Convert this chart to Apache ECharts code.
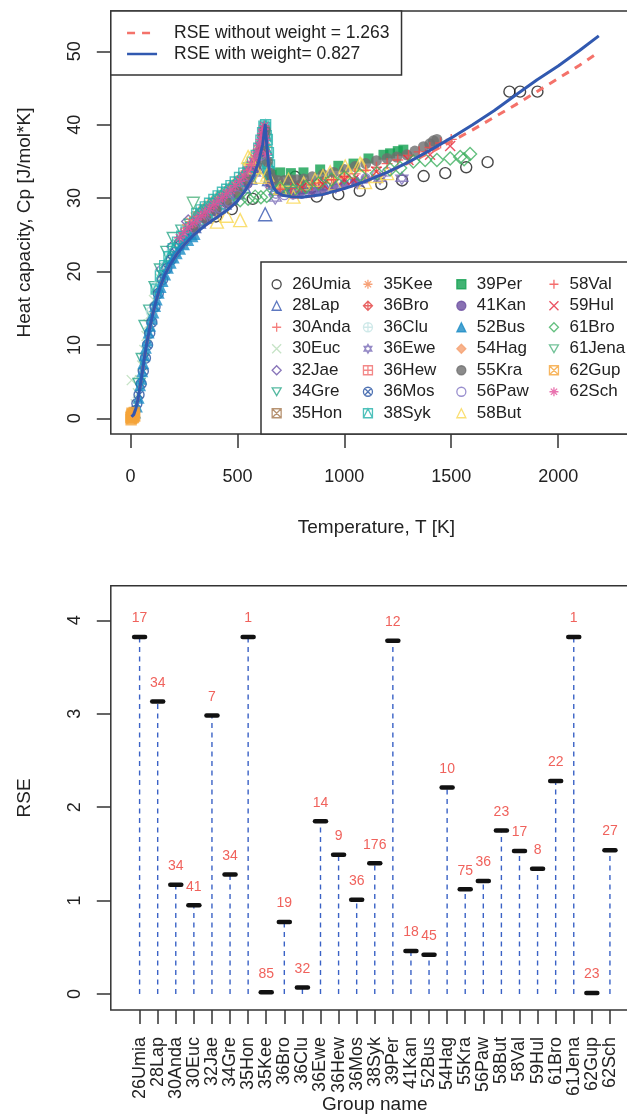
<!DOCTYPE html>
<html>
<head>
<meta charset="utf-8">
<title>Heat capacity fit and RSE by group</title>
<script src="https://cdn.jsdelivr.net/npm/echarts@6/dist/echarts.min.js"></script>
<style>
  html, body { margin: 0; padding: 0; background: #fff; }
  #chart { width: 627px; height: 1115px; }
</style>
</head>
<body>
<div id="chart"></div>
<script>
// ---- data ----
const groupNames = ['26Umia', '28Lap', '30Anda', '30Euc', '32Jae', '34Gre', '35Hon', '35Kee', '36Bro',
  '36Clu', '36Ewe', '36Hew', '36Mos', '38Syk', '39Per', '41Kan', '52Bus', '54Hag', '55Kra', '56Paw',
  '58But', '58Val', '59Hul', '61Bro', '61Jena', '62Gup', '62Sch']
const rseValues = [3.82, 3.13, 1.17, 0.95, 2.98, 1.28, 3.82, 0.02, 0.77, 0.07, 1.85, 1.49, 1.01, 1.40,
  3.78, 0.46, 0.42, 2.21, 1.12, 1.21, 1.75, 1.53, 1.34, 2.28, 3.82, 0.01, 1.54]
const pointCounts = [17, 34, 34, 41, 7, 34, 1, 85, 19, 32, 14, 9, 36, 176, 12, 18, 45, 10, 75, 36,
  23, 17, 8, 22, 1, 23, 27]

const tempTicks = [0, 500, 1000, 1500, 2000]
const cpTicks = [0, 10, 20, 30, 40, 50]
const rseTicks = [0, 1, 2, 3, 4]

// fitted curves
const fitT = [5, 15, 25, 35, 45, 55, 65, 75, 90, 105, 120, 140, 160, 185, 215, 250, 300, 350, 400, 450,
  500, 540, 575, 600, 618, 630, 638, 645, 655, 668, 685, 710, 750, 800, 900, 1000, 1100, 1200, 1300, 1400,
  1500, 1600, 1700, 1800, 1900, 2000, 2100, 2190]
const fitWeighted = [0.2, 0.5, 1.3, 2.6, 4.3, 6.2, 8.2, 10.0, 12.3, 14.3, 16.0, 18.0, 19.5, 20.9, 22.3, 23.6, 25.1, 26.3, 27.3, 28.3,
  29.6, 31.2, 33.0, 35.0, 37.3, 40.1, 37.0, 34.6, 32.7, 31.5, 30.8, 30.4, 30.2, 30.1, 30.5, 31.3, 32.3, 33.5, 34.9, 36.5,
  38.2, 40.0, 41.9, 44.0, 46.1, 48.0, 50.1, 52.1]
const fitUnweighted = [0.2, 0.5, 1.3, 2.6, 4.3, 6.2, 8.2, 10.0, 12.3, 14.3, 16.0, 18.0, 19.5, 20.9, 22.3, 23.6, 25.1, 26.3, 27.3, 28.3,
  29.6, 31.2, 33.0, 35.0, 37.3, 40.1, 37.0, 34.6, 32.7, 31.5, 30.8, 30.4, 30.2, 30.1, 30.5, 31.3, 32.3, 33.5, 34.8, 36.2,
  37.7, 39.3, 41.0, 42.7, 44.5, 46.3, 48.1, 49.9]

// measured points per group, [T, Cp]
const umia26 = [[300, 25.9], [400, 27.5], [474, 28.5], [572, 29.9], [770, 32.9], [871, 30.2], [972, 30.5], [1072, 31.0],
  [1173, 31.9], [1270, 32.4], [1371, 33.0], [1472, 33.4], [1570, 34.2], [1670, 34.9], [1772, 44.5], [1822, 44.5], [1903, 44.5]]
const lap28 = [[298, 26.2], [320, 26.8], [350, 27.5], [380, 28.1], [410, 28.8], [440, 29.4], [470, 30.0], [500, 30.8],
  [530, 31.6], [560, 32.8], [590, 34.3], [610, 35.6], [622, 37.2], [630, 27.8], [648, 32.6], [680, 31.4], [720, 31.2],
  [760, 31.3], [800, 31.5], [850, 31.7], [900, 32.0]]
const anda30 = [[210, 23.9], [240, 24.9], [270, 25.7], [300, 26.5], [330, 27.2], [360, 27.9], [390, 28.6], [420, 29.3],
  [450, 30.0], [480, 30.7], [510, 31.5], [540, 32.4], [570, 33.6], [595, 35.0], [612, 36.4], [624, 38.0], [636, 35.2],
  [650, 32.6], [680, 31.6], [720, 31.5], [780, 31.7], [850, 32.0]]
const euc30 = [[6, 5.2], [15, 0.8], [25, 1.9], [35, 3.4], [45, 5.2], [55, 7.2], [65, 9.3], [75, 11.2], [85, 12.8],
  [95, 14.2], [110, 16.1], [125, 17.7], [140, 19.0], [160, 20.4], [180, 21.6], [200, 22.6], [230, 23.8], [260, 24.8], [290, 25.7]]
const jae32 = [[150, 20.3], [200, 23.4], [270, 26.8], [330, 28.0], [420, 29.6], [520, 31.8], [600, 35.5]]
const gre34 = [[40, 4.6], [55, 8.0], [68, 12.5], [90, 14.6], [115, 17.8], [140, 20.2], [170, 22.6], [200, 24.5], [240, 25.5],
  [280, 26.3], [320, 27.3], [360, 28.2], [400, 29.1], [440, 30.0], [480, 30.9], [520, 32.0], [560, 33.4], [600, 35.3],
  [625, 37.8], [645, 33.2], [690, 31.4], [750, 31.3], [820, 31.6], [900, 32.0]]
const hon35 = [[298, 26.1]]
const kee35 = [[260, 25.9], [280, 26.8], [300, 26.6], [300, 27.5], [315, 27.0], [320, 28.1], [330, 27.3], [340, 28.6],
  [345, 27.7], [360, 28.0], [360, 29.1], [375, 28.3], [380, 29.5], [390, 28.7], [400, 30.0], [405, 29.0], [420, 29.4],
  [420, 30.4], [435, 29.7], [440, 30.9], [450, 30.0], [460, 31.4], [465, 30.4], [480, 30.8], [480, 31.9], [495, 31.2],
  [500, 32.4], [510, 31.7], [520, 33.0], [525, 32.1], [540, 32.7], [540, 33.7], [555, 33.3], [560, 34.5], [570, 34.0],
  [580, 35.4], [585, 34.8], [596, 36.6], [598, 35.8], [608, 36.7], [612, 37.8], [616, 37.7], [622, 38.6], [627, 39.3],
  [634, 37.0], [640, 34.8], [648, 33.2], [660, 32.2], [680, 31.7], [710, 31.5], [750, 31.5]]
const bro36 = [[300, 26.4], [350, 27.6], [400, 28.7], [450, 29.9], [500, 31.1], [540, 32.4], [580, 34.0], [610, 36.0],
  [628, 38.8], [650, 32.8], [700, 31.5], [760, 31.5], [820, 31.8], [880, 32.1], [940, 32.5], [1000, 33.0]]
const clu36 = [[100, 14.5], [130, 18.0], [160, 20.5], [190, 22.4], [220, 23.8], [250, 24.8], [280, 25.7], [310, 26.5],
  [340, 27.2], [370, 27.9], [400, 28.5], [430, 29.1], [460, 29.8], [490, 30.5]]
const ewe36 = [[300, 26.2], [400, 28.2], [500, 30.4], [580, 33.4], [620, 36.8], [677, 30.0], [760, 30.7], [860, 31.0],
  [960, 31.5], [1060, 32.1], [1167, 32.7], [1269, 32.7]]
const hew36 = [[320, 27.0], [380, 28.3], [440, 29.6], [500, 31.0], [560, 33.0], [605, 35.8], [626, 38.6], [660, 32.0], [720, 31.4]]
const mos36 = [[20, 1.0], [30, 2.0], [40, 3.2], [50, 4.7], [60, 6.4], [70, 8.2], [80, 10.0], [90, 11.6], [100, 13.1],
  [115, 15.2], [130, 17.0], [150, 18.9], [170, 20.4], [190, 21.6], [210, 22.6], [230, 23.5], [250, 24.2], [270, 24.9], [290, 25.5]]
const syk38 = [[120, 17.6], [140, 19.4], [160, 20.8], [180, 22.0], [200, 23.1], [220, 24.0], [240, 24.8], [260, 25.4],
  [280, 26.0], [300, 26.6], [310, 27.9], [320, 27.0], [330, 28.4], [340, 27.5], [350, 28.8], [360, 27.9], [370, 29.3],
  [380, 28.4], [390, 29.8], [400, 28.8], [410, 30.3], [420, 29.2], [430, 30.8], [440, 29.7], [450, 31.2], [460, 30.1],
  [470, 31.7], [480, 30.6], [490, 32.2], [500, 31.1], [510, 32.8], [520, 31.7], [530, 33.4], [540, 32.3], [550, 34.1],
  [560, 33.0], [570, 34.9], [580, 33.9], [588, 35.8], [595, 34.9], [600, 36.8], [605, 35.8], [610, 37.9], [613, 36.7],
  [618, 38.9], [620, 37.7], [624, 39.8], [625, 38.7], [629, 39.6], [632, 40.0], [635, 38.5], [638, 36.5], [640, 38.0],
  [642, 34.8], [645, 36.2], [647, 33.6], [650, 34.5], [653, 32.8], [660, 32.3], [670, 31.9], [685, 31.6], [700, 31.4],
  [720, 31.3], [740, 31.3], [760, 31.3], [780, 31.4], [800, 31.5]]
const per39 = [[660, 33.2], [700, 33.5], [750, 33.4], [809, 33.5], [887, 33.9], [972, 34.4], [1043, 34.7], [1113, 35.4],
  [1183, 35.9], [1214, 36.1], [1250, 36.4], [1276, 36.6]]
const kan41 = [[300, 26.0], [350, 27.1], [400, 28.1], [450, 29.2], [500, 30.4], [550, 31.9], [590, 34.0], [615, 36.2],
  [650, 32.0], [700, 30.9], [750, 30.8], [800, 30.9], [850, 31.1], [900, 31.3], [950, 31.6], [1000, 31.9], [1050, 32.3], [1100, 32.6]]
const bus52 = [[14, 0.4], [22, 0.8], [30, 1.6], [38, 2.8], [45, 4.5], [50, 5.4], [55, 6.4], [60, 7.5], [66, 8.6], [72, 9.6],
  [78, 10.6], [85, 11.7], [92, 12.6], [100, 13.6], [107, 14.4], [115, 15.3], [123, 16.2], [132, 17.1], [141, 17.9],
  [150, 18.7], [162, 19.6], [175, 20.5], [188, 21.2], [202, 21.9], [216, 22.5], [232, 23.1], [250, 23.7], [270, 24.3],
  [290, 24.8], [300, 25.1]]
const hag54 = [[300, 26.3], [350, 27.4], [400, 28.4], [450, 29.5], [500, 30.7], [550, 32.3], [600, 35.2], [625, 38.2], [660, 32.0], [700, 31.3]]
const kra55 = [[298, 26.0], [350, 27.3], [400, 28.4], [450, 29.5], [500, 30.8], [550, 32.5], [590, 34.6], [612, 36.6],
  [625, 38.5], [630, 39.3], [640, 35.0], [652, 33.4], [665, 32.6], [690, 32.4], [720, 32.4], [750, 32.5], [778, 32.5],
  [810, 32.6], [850, 32.9], [900, 33.2], [950, 33.5], [1000, 33.9], [1050, 34.3], [1100, 34.7], [1150, 35.1], [1200, 35.4],
  [1245, 35.6], [1292, 35.9], [1330, 36.4], [1370, 37.0], [1400, 37.4], [1417, 37.8], [1433, 38.0]]
const paw56 = [[300, 25.8], [340, 26.8], [380, 27.7], [420, 28.6], [460, 29.5], [500, 30.4], [540, 31.8], [580, 33.6],
  [610, 35.8], [625, 38.0], [650, 31.8], [680, 30.6], [720, 30.4], [760, 30.5], [800, 30.6], [850, 30.9], [900, 31.2],
  [950, 31.5], [1000, 31.9], [1050, 32.3], [1100, 32.7], [1150, 33.1], [1200, 33.6]]
const but58 = [[404, 26.8], [450, 27.6], [513, 27.0], [550, 35.6], [559, 35.4], [580, 34.2], [607, 32.9], [640, 33.2],
  [700, 31.4], [739, 32.5], [762, 30.2], [810, 32.0], [863, 32.5], [900, 33.0], [934, 33.5], [957, 32.0], [1004, 34.3],
  [1019, 33.6], [1074, 34.7], [1082, 34.5], [1097, 32.2], [1150, 33.0], [1200, 33.4]]
const val58 = [[700, 31.2], [750, 31.3], [800, 31.5], [850, 31.8], [900, 32.1], [950, 32.5], [1000, 32.9], [1050, 33.3],
  [1100, 33.8], [1150, 34.2], [1200, 34.7], [1250, 35.2], [1300, 35.8], [1350, 36.3], [1400, 36.9], [1450, 37.5], [1500, 38.0]]
const hul59 = [[800, 31.4], [900, 31.9], [1000, 32.5], [1043, 32.5], [1150, 33.6], [1300, 35.2], [1401, 35.9], [1495, 37.1]]
const bro61 = [[513, 29.7], [550, 29.9], [583, 30.2], [610, 30.1], [637, 30.3], [700, 31.3], [760, 31.0], [820, 31.5],
  [880, 32.0], [940, 32.5], [1000, 32.8], [1074, 33.1], [1152, 33.4], [1214, 33.9], [1261, 34.1], [1323, 35.0],
  [1378, 35.2], [1433, 35.2], [1495, 35.4], [1542, 35.6], [1560, 35.3], [1588, 36.0]]
const jena61 = [[294, 29.3]]
const gup62 = [[2, 0.1], [3, -0.2], [4, 0.3], [6, 0.0], [7, 0.7], [8, 0.5], [10, 0.2], [12, 0.6], [14, 0.1], [16, 0.4], [18, 0.8], [20, 0.3]]
const sch62 = [[230, 24.6], [250, 25.3], [270, 26.0], [290, 26.6], [310, 27.1], [330, 27.6], [350, 28.1], [370, 28.6],
  [390, 29.1], [410, 29.6], [430, 30.1], [450, 30.6], [470, 31.1], [490, 31.7], [510, 32.3], [530, 33.0], [550, 33.8],
  [565, 34.6], [580, 35.4], [592, 36.3], [602, 37.2], [610, 38.0], [617, 38.8], [622, 39.4], [626, 39.8], [630, 38.0], [636, 36.0]]

const groupPoints = [umia26, lap28, anda30, euc30, jae32, gre34, hon35, kee35, bro36, clu36, ewe36, hew36, mos36,
  syk38, per39, kan41, bus52, hag54, kra55, paw56, but58, val58, hul59, bro61, jena61, gup62, sch62]

// ---- styles ----
const FONT = '"Liberation Sans", Arial, Helvetica, sans-serif'
const INK = '#222'

const SYM = {
  plus: 'path://M0,5L10,5M5,0L5,10',
  cross: 'path://M0,0L10,10M10,0L0,10',
  down: 'path://M0,0L10,0L5,8.66Z',
  sqx: 'path://M0,0L10,0L10,10L0,10ZM0,0L10,10M10,0L0,10',
  star: 'path://M0,5L10,5M5,0L5,10M1.5,1.5L8.5,8.5M8.5,1.5L1.5,8.5',
  dplus: 'path://M5,0L10,5L5,10L0,5ZM0,5L10,5M5,0L5,10',
  cplus: 'path://M0,5A5,5,0,1,1,10,5A5,5,0,1,1,0,5ZM0,5L10,5M5,0L5,10',
  david: 'path://M5,0L9.33,7.5L0.67,7.5ZM5,10L0.67,2.5L9.33,2.5Z',
  splus: 'path://M0,0L10,0L10,10L0,10ZM0,5L10,5M5,0L5,10',
  cx: 'path://M0,5A5,5,0,1,1,10,5A5,5,0,1,1,0,5ZM1.46,1.46L8.54,8.54M8.54,1.46L1.46,8.54',
  stri: 'path://M0,0L10,0L10,10L0,10ZM0,10L5,0L10,10'
}

const groupColors = ['#1a1a1a', '#3556b0', '#f25f5c', '#b8dcb8', '#6a52a8', '#2aa889', '#a5784f', '#f58a55', '#e23c3c',
  '#c3e4e4', '#7a6db8', '#f06a6a', '#2450a0', '#22b2aa', '#12a050', '#6b4ea0', '#1b8cc6', '#f5a070', '#6e6e6e',
  '#8073c2', '#f9d750', '#f24848', '#e5283c', '#3fb060', '#4fb37e', '#f5a43a', '#e4509b']
const groupSymbols = ['circle', 'triangle', SYM.plus, SYM.cross, 'diamond', SYM.down, SYM.sqx, SYM.star, SYM.dplus,
  SYM.cplus, SYM.david, SYM.splus, SYM.cx, SYM.stri, 'rect', 'circle', 'triangle', 'diamond', 'circle',
  'circle', 'triangle', SYM.plus, SYM.cross, 'diamond', SYM.down, SYM.sqx, SYM.star]
const groupSizes = [11, 13, 11, 10, 13, 12, 10, 11, 11, 11, 12, 10, 10, 10, 10, 9, 12, 8, 11, 9, 13, 11, 10, 13, 12, 10, 11]
const groupFilled = [0, 0, 0, 0, 0, 0, 0, 0, 0, 0, 0, 0, 0, 0, 1, 1, 1, 1, 1, 0, 0, 0, 0, 0, 0, 0, 0]

const scatterSeries = groupNames.map((name, i) => ({
  name,
  type: 'scatter',
  xAxisIndex: 0,
  yAxisIndex: 0,
  data: groupPoints[i],
  symbol: groupSymbols[i],
  symbolSize: groupSizes[i],
  itemStyle: groupFilled[i]
    ? { color: groupColors[i], borderColor: groupColors[i], borderWidth: 0 }
    : { color: 'rgba(255,255,255,0)', borderColor: groupColors[i], borderWidth: 1.4 },
  silent: true
}))

const fitSeries = [
  {
    name: 'RSE without weight = 1.263',
    type: 'line',
    xAxisIndex: 0,
    yAxisIndex: 0,
    symbol: 'none',
    data: fitT.map((t, i) => [t, fitUnweighted[i]]),
    lineStyle: { color: '#f4726a', width: 3, type: [8, 7] },
    itemStyle: { color: '#f4726a' },
    z: 3
  },
  {
    name: 'RSE with weight= 0.827',
    type: 'line',
    xAxisIndex: 0,
    yAxisIndex: 0,
    symbol: 'none',
    data: fitT.map((t, i) => [t, fitWeighted[i]]),
    lineStyle: { color: '#3159b0', width: 3 },
    itemStyle: { color: '#3159b0' },
    z: 4
  }
]

// drawn on the category grid (index 2) that sits inside the RSE box
const rseSeries = {
  type: 'custom',
  xAxisIndex: 2,
  yAxisIndex: 2,
  data: groupNames.map((name, i) => [name, rseValues[i], pointCounts[i]]),
  encode: { x: 0, y: 1 },
  renderItem: (params, api) => {
    const base = api.coord([api.value(0), 0])
    const top = api.coord([api.value(0), api.value(1)])
    return {
      type: 'group',
      children: [
        { type: 'line', shape: { x1: base[0], y1: base[1], x2: top[0], y2: top[1] },
          style: { stroke: '#3a62c6', lineWidth: 1.4, lineDash: [5, 4.5] } },
        { type: 'line', shape: { x1: top[0] - 5.5, y1: top[1], x2: top[0] + 5.5, y2: top[1] },
          style: { stroke: '#111', lineWidth: 4.5, lineCap: 'round' } },
        { type: 'text', x: top[0], y: top[1] - 18.5,
          style: { text: String(api.value(2)), fill: '#f0625c', font: '14px ' + FONT, align: 'center', verticalAlign: 'middle' } }
      ]
    }
  }
}

const tickStyle = (vals) => ({ show: true, inside: false, length: 14, customValues: vals, lineStyle: { color: '#333', width: 1.5 } })
const noLine = { show: false, onZero: false }
const gridBox = { show: true, borderColor: '#333', borderWidth: 1.5, backgroundColor: 'transparent', outerBoundsMode: 'none' }
const nameStyle = { fontFamily: FONT, fontSize: 19, color: INK }

const legendCols = [0, 7, 14, 21].map((start, c) => ({
  orient: 'vertical',
  left: [271.5, 362.8, 456.2, 548.8][c],
  top: 273.5,
  padding: 0,
  itemGap: 0,
  itemWidth: 9,
  itemHeight: 9,
  selectedMode: false,
  data: groupNames.slice(start, start + 7),
  itemStyle: { borderWidth: 1.3 },
  textStyle: { fontFamily: FONT, fontSize: 17, color: INK, lineHeight: 21.5, padding: [0, 0, 0, 6] }
}))

const option = {
  animation: false,
  backgroundColor: '#fff',
  grid: [
    Object.assign({ left: 110.8, top: 11, width: 531.2, height: 423 }, gridBox),
    Object.assign({ left: 110.8, top: 585.7, width: 527.9, height: 424.3 }, gridBox),
    { left: 130.55, top: 585.7, width: 488.43, height: 424.3, show: false, outerBoundsMode: 'none' }
  ],
  xAxis: [
    {
      type: 'value', gridIndex: 0, min: -92, max: 2392, position: 'bottom',
      splitLine: { show: false }, axisLine: noLine,
      axisTick: tickStyle(tempTicks),
      axisLabel: { customValues: tempTicks, formatter: (v) => String(v), margin: 34,
        fontFamily: FONT, fontSize: 18, color: INK },
      name: 'Temperature, T [K]', nameLocation: 'middle', nameGap: 84, nameMoveOverlap: false, nameTextStyle: nameStyle
    },
    { type: 'value', gridIndex: 1, min: 0, max: 1, show: false },
    {
      type: 'category', gridIndex: 2, data: groupNames, boundaryGap: true, position: 'bottom',
      splitLine: { show: false }, axisLine: noLine,
      axisTick: { show: true, inside: false, length: 14, alignWithLabel: true, interval: 0,
        lineStyle: { color: '#333', width: 1.5 } },
      axisLabel: { interval: 0, rotate: 90, margin: 27, fontFamily: FONT, fontSize: 18, color: INK },
      name: 'Group name', nameLocation: 'middle', nameGap: 85, nameMoveOverlap: false, nameTextStyle: nameStyle
    }
  ],
  yAxis: [
    {
      type: 'value', gridIndex: 0, min: -2.14, max: 55.49, position: 'left',
      splitLine: { show: false }, axisLine: noLine,
      axisTick: tickStyle(cpTicks),
      axisLabel: { customValues: cpTicks, rotate: 90, margin: 27, fontFamily: FONT, fontSize: 18, color: INK },
      name: 'Heat capacity, Cp [J/mol*K]', nameLocation: 'middle', nameGap: 77, nameMoveOverlap: false, nameTextStyle: nameStyle
    },
    {
      type: 'value', gridIndex: 1, min: -0.171, max: 4.37, position: 'left',
      splitLine: { show: false }, axisLine: noLine,
      axisTick: tickStyle(rseTicks),
      axisLabel: { customValues: rseTicks, rotate: 90, margin: 27, fontFamily: FONT, fontSize: 18, color: INK },
      name: 'RSE', nameLocation: 'middle', nameGap: 77, nameMoveOverlap: false, nameTextStyle: nameStyle
    },
    { type: 'value', gridIndex: 2, min: -0.171, max: 4.37, show: false }
  ],
  legend: [
    {
      orient: 'vertical', left: 110.8, top: 11, padding: [11.5, 12, 10.5, 15], itemGap: 0,
      itemWidth: 30, itemHeight: 14, selectedMode: false,
      backgroundColor: '#fff', borderColor: '#333', borderWidth: 1.5, borderRadius: 0,
      data: ['RSE without weight = 1.263', 'RSE with weight= 0.827'],
      itemStyle: { color: 'rgba(0,0,0,0)', borderColor: 'rgba(0,0,0,0)', borderWidth: 0 },
      lineStyle: { width: 2.5 },
      textStyle: { fontFamily: FONT, fontSize: 17.5, color: INK, lineHeight: 21, padding: [0, 0, 0, 12] }
    }
  ].concat(legendCols),
  graphic: [
    {
      type: 'rect', z: 3, silent: true,
      shape: { x: 261, y: 262, width: 400, height: 172 },
      style: { fill: '#fff', stroke: '#333', lineWidth: 1.5 }
    }
  ],
  series: scatterSeries.concat(fitSeries, [rseSeries])
}

const chart = echarts.init(document.getElementById('chart'), null, { renderer: 'canvas' })
chart.setOption(option)
window.addEventListener('resize', () => chart.resize())
</script>
</body>
</html>
